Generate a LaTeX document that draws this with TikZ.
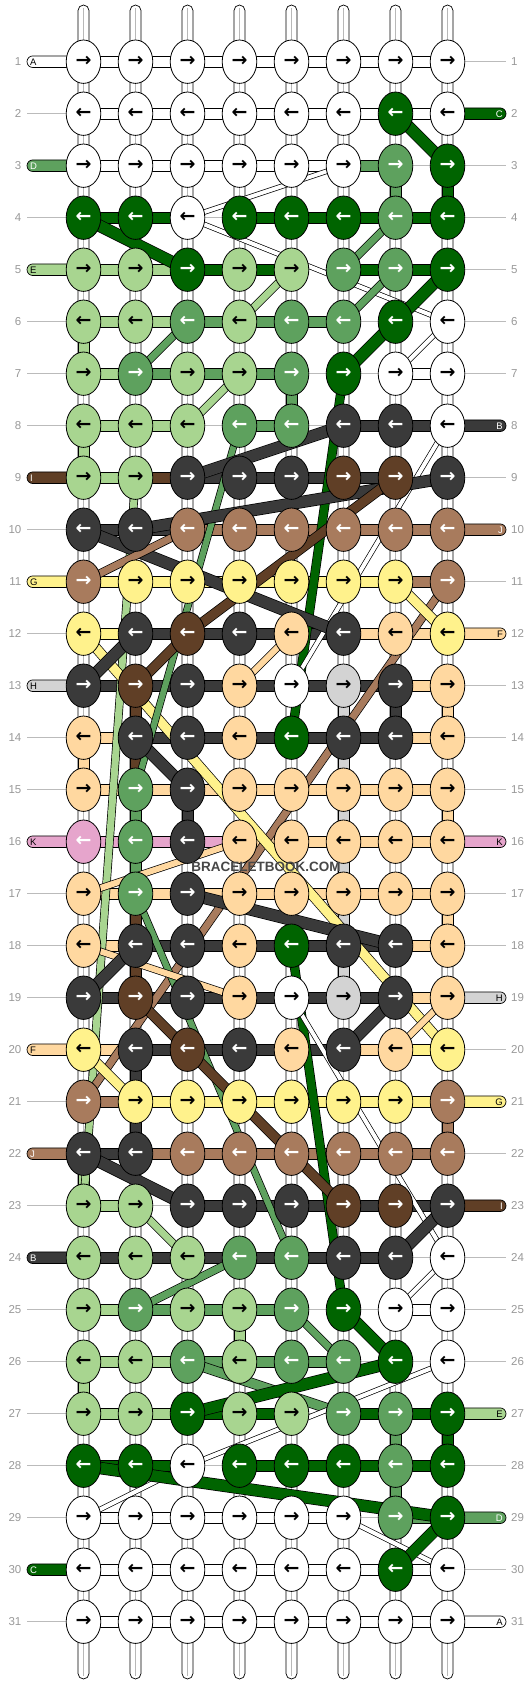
\documentclass[tikz,border=0pt]{standalone}
\usepackage{fontspec}
\setmainfont{Liberation Sans}
\newfontfamily\arrowfont{DejaVu Sans}[UprightFont=* Bold]
\usetikzlibrary{shapes.geometric,calc}
\definecolor{cW}{HTML}{FFFFFF}
\definecolor{cB}{HTML}{3A3A3A}
\definecolor{cC}{HTML}{006400}
\definecolor{cD}{HTML}{5EA15E}
\definecolor{cE}{HTML}{A8D590}
\definecolor{cF}{HTML}{FFD8A0}
\definecolor{cG}{HTML}{FFF28C}
\definecolor{cH}{HTML}{D3D3D3}
\definecolor{cI}{HTML}{603F26}
\definecolor{cJ}{HTML}{A87B5D}
\definecolor{cK}{HTML}{E6A5CC}
\colorlet{aW}{black}\colorlet{aB}{white}\colorlet{aC}{white}\colorlet{aD}{white}
\colorlet{aE}{black}\colorlet{aF}{black}\colorlet{aG}{black}\colorlet{aH}{black}
\colorlet{aI}{white}\colorlet{aJ}{white}\colorlet{aK}{white}
\colorlet{lW}{black}\colorlet{lB}{white}\colorlet{lC}{white}\colorlet{lD}{white}
\colorlet{lE}{black}\colorlet{lF}{black}\colorlet{lG}{black}\colorlet{lH}{black}
\colorlet{lI}{white}\colorlet{lJ}{white}\colorlet{lK}{black}
\definecolor{numgray}{HTML}{999999}
\definecolor{linegray}{HTML}{BBBBBB}
\tikzset{
 knot/.style={ellipse, draw=black, line width=0.8pt, minimum width=34.6pt, minimum height=43.4pt, inner sep=0pt, font=\arrowfont\fontsize{19}{19}\selectfont},
 rowline/.style={draw=linegray, line width=0.8pt},
 num/.style={text=numgray, font=\fontsize{11.5}{12}\selectfont, inner sep=0pt},
 lab/.style={font=\fontsize{9.5}{9.5}\selectfont, inner sep=0pt},
 hb/.style={draw=black, line width=0.7pt},
 barW/.style={hb, fill=cW}, barB/.style={hb, fill=cB}, barC/.style={hb, fill=cC},
 barD/.style={hb, fill=cD}, barE/.style={hb, fill=cE}, barF/.style={hb, fill=cF},
 barG/.style={hb, fill=cG}, barH/.style={hb, fill=cH}, barI/.style={hb, fill=cI},
 barJ/.style={hb, fill=cJ}, barK/.style={hb, fill=cK}, barN/.style={},
}
\begin{document}
\begin{tikzpicture}[x=1pt,y=-1pt]
\useasboundingbox[fill=white] (0,0) rectangle (532,1684);
% grid coordinates
\foreach \r in {1,...,31}{
  \foreach \c in {1,...,8}{
    \coordinate (p-\r-\c) at ({83.5+52*(\c-1)},{61.7+52*(\r-1)});
  }
  \coordinate (ll-\r) at (27,{61.7+52*(\r-1)});
  \coordinate (rl-\r) at (506,{61.7+52*(\r-1)});
}
\foreach \c in {1,...,8}{
  \coordinate (t-\c) at ({83.5+52*(\c-1)},5);
  \coordinate (b-\c) at ({83.5+52*(\c-1)},1679);
}
% row reference lines and numbers
\foreach \r in {1,...,31}{
  \draw[rowline] (ll-\r) -- (rl-\r);
  \node[num, anchor=east] (nl-\r) at ($(ll-\r)+(-5.5,0)$) {\r};
  \node[num, anchor=west] (nr-\r) at ($(rl-\r)+(5,0)$) {\r};
}
% vertical base threads
\foreach \c in {1,...,8}{
  \filldraw[fill=white, draw=black, line width=0.7pt, rounded corners=5.5pt] ($(t-\c)+(-5.5,0)$) rectangle ($(b-\c)+(5.5,0)$);
  \draw[numgray!70, line width=0.7pt] ($(t-\c)+(0,3)$) -- ($(b-\c)+(0,-3)$);
}
% horizontal bars
\foreach \r/\l in {
 1/{W,W,W,W,W,W,W}, 2/{W,W,W,W,W,W,W}, 3/{W,W,W,W,W,D,N}, 4/{C,C,N,C,C,C,C},
 5/{E,E,C,C,N,C,C}, 6/{E,E,D,D,D,N,N}, 7/{E,D,D,D,N,N,W}, 8/{E,E,N,D,N,B,B},
 9/{E,I,B,B,B,B,N}, 10/{B,B,J,J,J,J,J}, 11/{G,G,G,G,G,G,J}, 12/{G,B,B,B,B,F,F},
 13/{B,B,B,B,B,B,F}, 14/{F,B,B,B,B,B,F}, 15/{F,F,F,F,F,F,F}, 16/{K,K,K,F,F,F,F},
 17/{F,F,F,F,F,F,F}, 18/{F,B,B,B,B,B,F}, 19/{B,B,B,B,B,B,F}, 20/{F,B,B,B,B,F,G},
 21/{J,G,G,G,G,G,G}, 22/{B,J,J,J,J,J,J}, 23/{E,N,B,B,B,B,B}, 24/{B,B,B,B,B,B,N},
 25/{E,D,D,D,N,N,W}, 26/{E,E,D,D,D,N,N}, 27/{E,E,C,C,N,C,C}, 28/{C,C,N,C,C,C,C},
 29/{W,W,W,W,W,N,D}, 30/{W,W,W,W,W,W,W}, 31/{W,W,W,W,W,W,W}}{
  \foreach \col [count=\c] in \l {
    \pgfmathtruncatemacro\n{\c+1}
    \path[bar\col] ($(p-\r-\c)+(0,-5.8)$) rectangle ($(p-\r-\n)+(0,5.8)$);
  }
}
% coloured vertical segments
\foreach \r/\c/\col in {3/7/D, 3/8/C, 6/1/E, 7/5/D, 8/1/E,
 13/2/I, 14/2/I, 15/2/D, 16/2/D, 17/2/I, 18/2/I,
 13/6/H, 14/6/H, 15/6/H, 16/6/H, 17/6/H, 18/6/H,
 13/7/B, 15/3/B, 13/8/F, 15/8/F, 17/8/F, 14/1/F,
 20/2/B, 21/2/B, 21/8/J, 22/1/E, 25/4/E, 26/1/E, 27/7/D, 27/8/C, 28/7/D}{
  \pgfmathtruncatemacro\n{\r+1}
  \path[bar\col] ($(p-\r-\c)+(-5.5,0)$) rectangle ($(p-\n-\c)+(5.5,0)$);
}
% thread ends with letters, left side
\foreach \r/\col/\txt in {1/W/A, 3/D/D, 5/E/E, 9/I/I, 11/G/G, 13/H/H, 16/K/K, 20/F/F, 22/J/J, 24/B/B, 30/C/C}{
  \filldraw[fill=c\col, line width=0.7pt, rounded corners=5.8pt] ($(ll-\r)+(0,-5.8)$) rectangle ($(p-\r-1)+(0,5.8)$);
  \node[lab, text=l\col, anchor=west] (labL-\r) at ($(ll-\r)+(3,0.3)$) {\txt};
}
% thread ends with letters, right side
\foreach \r/\col/\txt in {2/C/C, 8/B/B, 10/J/J, 12/F/F, 16/K/K, 19/H/H, 21/G/G, 23/I/I, 27/E/E, 29/D/D, 31/W/A}{
  \filldraw[fill=c\col, line width=0.7pt, rounded corners=5.8pt] ($(p-\r-8)+(0,-5.8)$) rectangle ($(rl-\r)+(0,5.8)$);
  \node[lab, text=l\col, anchor=east] (labR-\r) at ($(rl-\r)+(-3,0.3)$) {\txt};
}
% carried threads
\foreach \ra/\ca/\rb/\cb/\col/\w in {
 9/2/23/1/E/7, 11/8/21/1/J/7, 12/1/20/8/G/9, 8/4/15/2/D/6, 17/2/24/5/D/6,
 7/6/14/5/C/8, 18/5/25/6/C/8, 8/8/13/5/W/4, 19/5/24/8/W/4,
 2/7/3/8/C/11, 4/1/5/3/C/11, 4/3/3/6/W/4, 4/3/6/8/W/4,
 5/6/4/7/D/7, 6/6/5/7/D/7, 5/8/6/7/C/11, 6/7/7/6/C/11, 5/5/6/4/E/7,
 6/3/7/2/D/7, 7/4/8/3/E/7, 6/8/7/7/W/4,
 9/3/8/6/B/11, 10/2/9/8/B/11, 10/1/12/6/B/11, 9/7/12/3/I/9, 12/3/13/2/I/9,
 11/1/10/3/J/7, 11/7/12/8/G/9, 13/4/12/5/F/6, 12/2/13/1/B/11, 14/2/15/3/B/11,
 17/1/16/4/F/6, 17/3/18/7/B/11, 18/1/19/4/F/6, 18/2/19/1/B/11,
 19/2/20/3/I/9, 20/3/23/6/I/9, 20/6/19/7/B/11, 20/7/19/8/F/6, 20/1/21/2/G/9,
 22/1/23/3/B/11, 23/2/24/3/E/7, 24/4/25/2/D/7, 24/7/23/8/B/11, 24/8/25/7/W/4,
 25/5/26/6/D/7, 25/6/26/7/C/11, 26/3/27/6/D/9, 26/7/27/3/C/11,
 26/8/28/3/W/4, 28/3/29/1/W/4, 28/1/29/8/C/11, 29/6/30/8/W/4, 29/8/30/7/C/11}{
  \draw[black, line width=\w+1.4] (p-\ra-\ca) -- (p-\rb-\cb);
  \draw[c\col, line width=\w] (p-\ra-\ca) -- (p-\rb-\cb);
}
% knots
\foreach \r/\l in {
 1/{W,W,W,W,W,W,W,W}, 2/{W,W,W,W,W,W,C,W}, 3/{W,W,W,W,W,W,D,C}, 4/{C,C,W,C,C,C,D,C},
 5/{E,E,C,E,E,D,D,C}, 6/{E,E,D,E,D,D,C,W}, 7/{E,D,E,E,D,C,W,W}, 8/{E,E,E,D,D,B,B,W},
 9/{E,E,B,B,B,I,I,B}, 10/{B,B,J,J,J,J,J,J}, 11/{J,G,G,G,G,G,G,J}, 12/{G,B,I,B,F,B,F,G},
 13/{B,I,B,F,W,H,B,F}, 14/{F,B,B,F,C,B,B,F}, 15/{F,D,B,F,F,F,F,F}, 16/{K,D,B,F,F,F,F,F},
 17/{F,D,B,F,F,F,F,F}, 18/{F,B,B,F,C,B,B,F}, 19/{B,I,B,F,W,H,B,F}, 20/{G,B,I,B,F,B,F,G},
 21/{J,G,G,G,G,G,G,J}, 22/{B,B,J,J,J,J,J,J}, 23/{E,E,B,B,B,I,I,B}, 24/{E,E,E,D,D,B,B,W},
 25/{E,D,E,E,D,C,W,W}, 26/{E,E,D,E,D,D,C,W}, 27/{E,E,C,E,E,D,D,C}, 28/{C,C,W,C,C,C,D,C},
 29/{W,W,W,W,W,W,D,C}, 30/{W,W,W,W,W,W,C,W}, 31/{W,W,W,W,W,W,W,W}}{
  \foreach \col [count=\c] in \l {
    \node[knot, fill=c\col, text=a\col] (k-\r-\c) at (p-\r-\c) {\ifodd\r →\else ←\fi};
  }
}
\node[font=\bfseries\fontsize{13.5}{14}\selectfont, text=black!72, inner sep=1pt] (wm) at (266,867) {BRACELETBOOK.COM};
\end{tikzpicture}
\end{document}
